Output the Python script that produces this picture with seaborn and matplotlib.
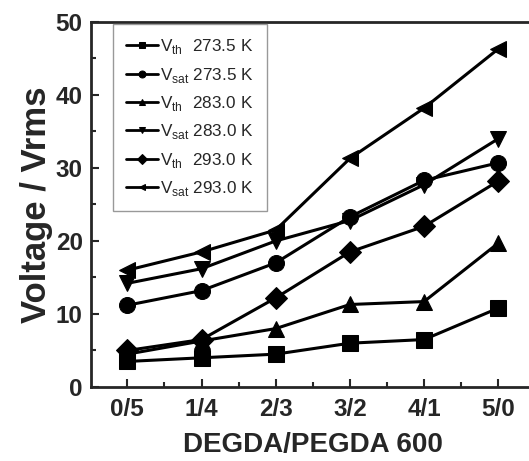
import pandas as pd
import seaborn as sns
import matplotlib.pyplot as plt

# composition ratio on the x axis
ratios = ['0/5', '1/4', '2/3', '3/2', '4/1', '5/0']

# voltages (Vrms)
vth_2735 = [3.5, 4.0, 4.5, 6.0, 6.5, 10.8]
vsat_2735 = [11.2, 13.2, 17.0, 23.3, 28.3, 30.7]
vth_2830 = [4.5, 6.3, 8.0, 11.3, 11.7, 19.7]
vsat_2830 = [14.2, 16.2, 20.0, 22.8, 27.7, 34.0]
vth_2930 = [5.0, 6.5, 12.2, 18.5, 22.0, 28.2]
vsat_2930 = [16.0, 18.5, 21.5, 31.3, 38.2, 46.3]

labels = [r'V$_{\mathregular{th}}\ $ 273.5 K', r'V$_{\mathregular{sat}}$ 273.5 K',
          r'V$_{\mathregular{th}}\ $ 283.0 K', r'V$_{\mathregular{sat}}$ 283.0 K',
          r'V$_{\mathregular{th}}\ $ 293.0 K', r'V$_{\mathregular{sat}}$ 293.0 K']
series = [vth_2735, vsat_2735, vth_2830, vsat_2830, vth_2930, vsat_2930]
marker_list = ['s', 'o', '^', 'v', 'D', '<']

rows = []
for lab, vals in zip(labels, series):
    for i, v in enumerate(vals):
        rows.append({'pos': i, 'V': v, 'series': lab})
df = pd.DataFrame(rows)

sns.set_style('ticks')
plt.rcParams['font.family'] = ['Liberation Sans', 'DejaVu Sans']
plt.rcParams['mathtext.fontset'] = 'custom'
plt.rcParams['mathtext.rm'] = 'Liberation Sans'

fig = plt.figure(figsize=(5.29, 4.61), dpi=100)
ax = fig.add_axes([0.172, 0.1605, 0.84, 0.792])

sns.lineplot(data=df, x='pos', y='V', hue='series', style='series',
             hue_order=labels, style_order=labels,
             palette=['black'] * 6, markers=dict(zip(labels, marker_list)),
             dashes=False, markersize=11.5, linewidth=2.2,
             markeredgecolor='black', ax=ax, legend=False)

ax.set_xlim(-0.49, 5.5)
ax.set_ylim(0, 50)
ax.set_xticks(range(6))
ax.set_xticklabels(ratios)
ax.set_xticks([0.5, 1.5, 2.5, 3.5, 4.5], minor=True)
ax.set_yticks(range(0, 51, 10))
ax.set_yticks(range(5, 50, 10), minor=True)
ax.tick_params(which='both', direction='in', width=1.5, labelsize=17.5)
ax.tick_params(which='major', length=6, pad=6)
ax.tick_params(axis='x', which='major', pad=8)
ax.tick_params(which='minor', length=3.5)
for lbl in ax.get_xticklabels() + ax.get_yticklabels():
    lbl.set_fontweight('bold')
for side in ['left', 'bottom', 'top']:
    ax.spines[side].set_linewidth(2)
ax.spines['right'].set_visible(False)

ax.set_xlabel('DEGDA/PEGDA 600', fontsize=20, fontweight='bold', labelpad=8)
ax.set_ylabel('Voltage / Vrms', fontsize=25, fontweight='bold', labelpad=2)

leg = ax.legend(ax.get_lines()[:6], labels, loc='upper left',
                bbox_to_anchor=(0.05, 0.993), fontsize=12.3, frameon=True,
                fancybox=False, edgecolor='gray', handlelength=1.9,
                handletextpad=0.1, labelspacing=0.55, borderpad=0.75,
                borderaxespad=0.0)
leg.get_frame().set_linewidth(1.0)
for h in leg.legend_handles:
    h.set_markersize(5)
    h.set_linewidth(2)

fig.savefig('out.png', dpi=100)
